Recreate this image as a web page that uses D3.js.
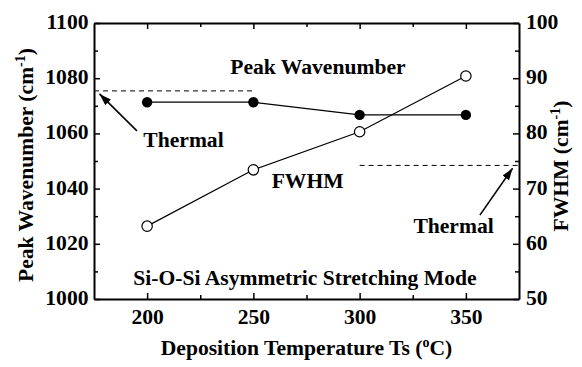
<!DOCTYPE html>
<html>
<head>
<meta charset="utf-8">
<script src="https://cdn.jsdelivr.net/npm/d3@7"></script>
<style>
  html, body { margin: 0; padding: 0; background: #fff; }
  svg, svg text { font-family: "Liberation Serif", "Times New Roman", serif !important; font-weight: bold; fill: #000; }
</style>
</head>
<body>
<svg id="chart" width="582" height="367"></svg>
<script>
// Deposition temperatures (°C)
const temperatures = [200, 250, 300, 350];
// Si-O-Si peak position (cm-1), left axis
const peakWavenumber = [1071.3, 1071.3, 1066.7, 1066.7];
// Full width at half maximum (cm-1), right axis
const fwhm = [63.2, 73.4, 80.3, 90.4];
// Thermal oxide reference levels
const thermalPeak = 1075.4;
const thermalPeakRange = [175, 250];
const thermalFwhm = 74.2;
const thermalFwhmRange = [300, 375];

const xTickValues = [200, 250, 300, 350];
const xMinorTicks = [225, 275, 325];
const leftTickValues = [1000, 1020, 1040, 1060, 1080, 1100];
const leftMinorTicks = [1010, 1030, 1050, 1070, 1090];
const rightTickValues = [50, 60, 70, 80, 90, 100];
const rightMinorTicks = [55, 65, 75, 85, 95];

const FONT = '"Liberation Serif", "Times New Roman", serif';
const FS = 21.6;
const svg = d3.select("#chart").style("font-family", FONT);
const m = { left: 94, right: 519, top: 23, bottom: 299 };

const x = d3.scaleLinear().domain([175, 375]).range([m.left, m.right]);
const yL = d3.scaleLinear().domain([1000, 1100]).range([m.bottom, m.top]);
const yR = d3.scaleLinear().domain([50, 100]).range([m.bottom, m.top]);

function styleAxis(g) {
  g.attr("font-family", FONT).attr("font-size", FS).style("font-family", FONT);
  g.selectAll("path.domain").attr("stroke", "#000").attr("stroke-width", 2);
  g.selectAll(".tick line").attr("stroke", "#000").attr("stroke-width", 1.5);
  g.selectAll(".tick text")
    .style("font-family", FONT).style("font-weight", "bold").style("font-size", FS + "px")
    .attr("fill", "#000");
}

// Bottom axis
const gB = svg.append("g").attr("transform", `translate(0,${m.bottom})`)
  .call(d3.axisBottom(x).tickValues(xTickValues).tickSize(-6).tickSizeOuter(0).tickPadding(0).tickFormat(d3.format("d")));
gB.selectAll(".tick text").attr("dy", null).attr("y", 24.5);
styleAxis(gB);
svg.append("g").attr("transform", `translate(0,${m.bottom})`)
  .call(d3.axisBottom(x).tickValues(xMinorTicks).tickSize(-4).tickFormat(""))
  .call(g => g.select(".domain").remove()).call(styleAxis);

// Top axis
const gT = svg.append("g").attr("transform", `translate(0,${m.top})`)
  .call(d3.axisTop(x).tickValues(xTickValues).tickSize(-6).tickSizeOuter(0).tickFormat(""));
styleAxis(gT);
svg.append("g").attr("transform", `translate(0,${m.top})`)
  .call(d3.axisTop(x).tickValues(xMinorTicks).tickSize(-4).tickFormat(""))
  .call(g => g.select(".domain").remove()).call(styleAxis);

// Left axis
const gL = svg.append("g").attr("transform", `translate(${m.left},0)`)
  .call(d3.axisLeft(yL).tickValues(leftTickValues).tickSize(-6).tickSizeOuter(0).tickPadding(5.5).tickFormat(d3.format("d")));
gL.selectAll(".tick text").attr("dy", "5.5px");
styleAxis(gL);
svg.append("g").attr("transform", `translate(${m.left},0)`)
  .call(d3.axisLeft(yL).tickValues(leftMinorTicks).tickSize(-4).tickFormat(""))
  .call(g => g.select(".domain").remove()).call(styleAxis);

// Right axis
const gR = svg.append("g").attr("transform", `translate(${m.right},0)`)
  .call(d3.axisRight(yR).tickValues(rightTickValues).tickSize(-6).tickSizeOuter(0).tickPadding(7).tickFormat(d3.format("d")));
gR.selectAll(".tick text").attr("dy", "5.5px");
styleAxis(gR);
svg.append("g").attr("transform", `translate(${m.right},0)`)
  .call(d3.axisRight(yR).tickValues(rightMinorTicks).tickSize(-4).tickFormat(""))
  .call(g => g.select(".domain").remove()).call(styleAxis);

// Thermal reference dashed lines
svg.append("line")
  .attr("x1", x(thermalPeakRange[0])).attr("x2", x(thermalPeakRange[1]))
  .attr("y1", yL(thermalPeak)).attr("y2", yL(thermalPeak))
  .attr("stroke", "#000").attr("stroke-width", 1).attr("stroke-dasharray", "5,4");
svg.append("line")
  .attr("x1", x(thermalFwhmRange[0])).attr("x2", x(thermalFwhmRange[1]))
  .attr("y1", yR(thermalFwhm)).attr("y2", yR(thermalFwhm))
  .attr("stroke", "#000").attr("stroke-width", 1).attr("stroke-dasharray", "5,4");

// Series lines
const peakData = temperatures.map((t, i) => [t, peakWavenumber[i]]);
const fwhmData = temperatures.map((t, i) => [t, fwhm[i]]);
svg.append("path").datum(peakData)
  .attr("d", d3.line().x(d => x(d[0])).y(d => yL(d[1])))
  .attr("fill", "none").attr("stroke", "#000").attr("stroke-width", 1.2);
svg.append("path").datum(fwhmData)
  .attr("d", d3.line().x(d => x(d[0])).y(d => yR(d[1])))
  .attr("fill", "none").attr("stroke", "#000").attr("stroke-width", 1.2);

// Markers
svg.selectAll("circle.peak").data(peakData).join("circle").attr("class", "peak")
  .attr("cx", d => x(d[0])).attr("cy", d => yL(d[1])).attr("r", 5.2)
  .attr("fill", "#000");
svg.selectAll("circle.fwhm").data(fwhmData).join("circle").attr("class", "fwhm")
  .attr("cx", d => x(d[0])).attr("cy", d => yR(d[1])).attr("r", 5.2)
  .attr("fill", "#fff").attr("stroke", "#000").attr("stroke-width", 1.2);

// Arrow marker
svg.append("defs").append("marker")
  .attr("id", "arrowhead").attr("viewBox", "0 0 12 8")
  .attr("refX", 12).attr("refY", 4)
  .attr("markerWidth", 12).attr("markerHeight", 8)
  .attr("markerUnits", "userSpaceOnUse").attr("orient", "auto")
  .append("path").attr("d", "M0,0 L12,4 L0,8 Z").attr("fill", "#000");

// Annotation arrows (in data units: [temperature, value])
const leftArrow = { from: [195.2, 1060.9], to: [177.6, 1074.3] };
const rightArrow = { from: [356.6, 65.2], to: [372.0, 73.7] };
svg.append("line")
  .attr("x1", x(leftArrow.from[0])).attr("y1", yL(leftArrow.from[1]))
  .attr("x2", x(leftArrow.to[0])).attr("y2", yL(leftArrow.to[1]))
  .attr("stroke", "#000").attr("stroke-width", 1.6).attr("marker-end", "url(#arrowhead)");
svg.append("line")
  .attr("x1", x(rightArrow.from[0])).attr("y1", yR(rightArrow.from[1]))
  .attr("x2", x(rightArrow.to[0])).attr("y2", yR(rightArrow.to[1]))
  .attr("stroke", "#000").attr("stroke-width", 1.6).attr("marker-end", "url(#arrowhead)");

// Text annotations
function label(px, py, txt, anchor) {
  return svg.append("text").attr("x", px).attr("y", py)
    .style("font-family", FONT).style("font-size", FS + "px")
    .attr("text-anchor", anchor || "start").text(txt);
}
label(x(280.4), yL(1081.4), "Peak Wavenumber", "middle");
label(x(198.2), yL(1055.2), "Thermal");
label(x(258.6), yL(1040.1), "FWHM");
label(x(325.3), yR(62.0), "Thermal");
label(x(193.5), yL(1005.1), "Si-O-Si Asymmetric Stretching Mode");

// Axis titles
function titled(sel, main, sup, tail) {
  sel.style("font-family", FONT).style("font-size", FS + "px");
  sel.append("tspan").text(main);
  sel.append("tspan").style("font-size", "14px").attr("dy", -8).text(sup);
  sel.append("tspan").attr("dy", 8).text(tail);
  return sel;
}
titled(svg.append("text").attr("x", (m.left + m.right) / 2).attr("y", 355).attr("text-anchor", "middle"),
  "Deposition Temperature Ts (", "o", "C)");
titled(svg.append("text").attr("transform", "translate(33,165) rotate(-90)").attr("text-anchor", "middle"),
  "Peak Wavenumber (cm", "-1", ")");
titled(svg.append("text").attr("transform", "translate(567.5,166) rotate(-90)").attr("text-anchor", "middle"),
  "FWHM (cm", "-1", ")");
</script>
</body>
</html>
